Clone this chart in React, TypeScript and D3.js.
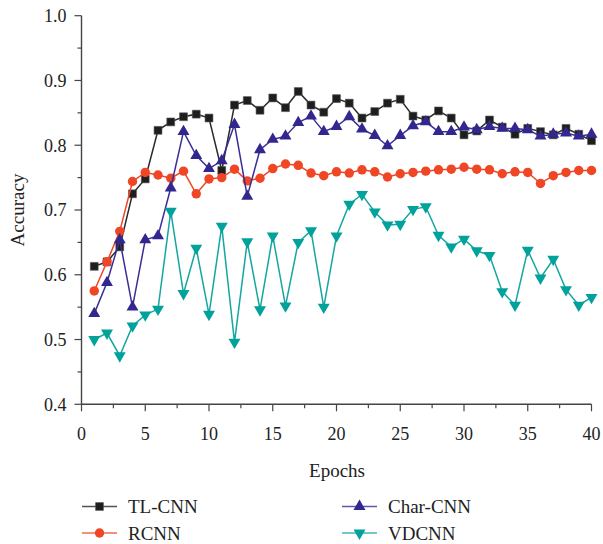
import React, { useEffect, useRef } from 'react';
import * as d3 from 'd3';

// epochs 1..40
const epochs = d3.range(1, 41);

const tlCnn = [
  0.613, 0.620, 0.643, 0.725, 0.748, 0.823, 0.836, 0.844, 0.848, 0.842,
  0.761, 0.862, 0.869, 0.854, 0.873, 0.858, 0.883, 0.862, 0.851, 0.872,
  0.865, 0.842, 0.852, 0.865, 0.871, 0.845, 0.839, 0.853, 0.842, 0.816,
  0.822, 0.839, 0.828, 0.817, 0.826, 0.821, 0.816, 0.826, 0.817, 0.807,
];

const rcnn = [
  0.575, 0.620, 0.667, 0.744, 0.758, 0.754, 0.749, 0.760, 0.725, 0.748,
  0.750, 0.763, 0.745, 0.749, 0.764, 0.771, 0.769, 0.757, 0.753, 0.759,
  0.757, 0.762, 0.759, 0.751, 0.756, 0.758, 0.760, 0.762, 0.763, 0.766,
  0.763, 0.762, 0.756, 0.759, 0.758, 0.741, 0.753, 0.758, 0.761, 0.761,
];

const charCnn = [
  0.540, 0.588, 0.654, 0.550, 0.654, 0.660, 0.734, 0.821, 0.784, 0.764,
  0.776, 0.832, 0.721, 0.793, 0.809, 0.814, 0.835, 0.845, 0.821, 0.829,
  0.844, 0.825, 0.815, 0.799, 0.815, 0.830, 0.836, 0.821, 0.821, 0.828,
  0.824, 0.829, 0.826, 0.826, 0.824, 0.814, 0.817, 0.819, 0.814, 0.817,
];

const vdcnn = [
  0.500, 0.510, 0.475, 0.521, 0.538, 0.547, 0.698, 0.571, 0.641, 0.539,
  0.675, 0.496, 0.651, 0.546, 0.660, 0.552, 0.650, 0.668, 0.550, 0.660,
  0.709, 0.724, 0.697, 0.677, 0.678, 0.701, 0.705, 0.661, 0.643, 0.655,
  0.637, 0.630, 0.574, 0.553, 0.638, 0.595, 0.624, 0.577, 0.553, 0.565,
];

const xTicks = [0, 5, 10, 15, 20, 25, 30, 35, 40];
const yTicks = [0.4, 0.5, 0.6, 0.7, 0.8, 0.9, 1.0];

const series = [
  { name: 'TL-CNN', values: tlCnn, color: '#1e1e1e', line: '#2a2a2a', symbol: d3.symbolSquare, size: 62, rot: 0, stroke: '#555' },
  { name: 'RCNN', values: rcnn, color: '#ef4626', line: '#ef4626', symbol: d3.symbolCircle, size: 70, rot: 0, stroke: 'none' },
  { name: 'Char-CNN', values: charCnn, color: '#31278f', line: '#3a2f95', symbol: d3.symbolTriangle, size: 62, rot: 0, stroke: 'none' },
  { name: 'VDCNN', values: vdcnn, color: '#00a29b', line: '#14a6a0', symbol: d3.symbolTriangle, size: 62, rot: 180, stroke: 'none' },
];

const App = () => {
  const ref = useRef<SVGSVGElement | null>(null);

  useEffect(() => {
    if (!ref.current) return;
    const svg = d3.select(ref.current);
    svg.selectAll('*').remove();

    const axisColor = '#444';

    const x = d3.scaleLinear().domain([0, 40]).range([81.5, 591.5]);
    const y = d3.scaleLinear().domain([0.4, 1.0]).range([404.3, 15.7]);

    // y axis
    const yAxis = svg.append('g').attr('transform', `translate(${x(0)},0)`);
    yAxis.append('line')
      .attr('x1', 0).attr('x2', 0)
      .attr('y1', y(1.0)).attr('y2', y(0.4))
      .attr('stroke', axisColor).attr('stroke-width', 1.4);
    yAxis.selectAll('.maj').data(yTicks).enter().append('line')
      .attr('x1', -7).attr('x2', 0)
      .attr('y1', d => y(d)).attr('y2', d => y(d))
      .attr('stroke', axisColor).attr('stroke-width', 1.2);
    yAxis.selectAll('.min').data(yTicks.slice(0, -1).map(d => d + 0.05)).enter().append('line')
      .attr('x1', -4).attr('x2', 0)
      .attr('y1', d => y(d)).attr('y2', d => y(d))
      .attr('stroke', axisColor).attr('stroke-width', 1.2);
    yAxis.selectAll('text').data(yTicks).enter().append('text')
      .attr('x', -15).attr('y', d => y(d))
      .attr('dy', '0.35em')
      .attr('text-anchor', 'end')
      .attr('font-size', 18).attr('fill', '#222')
      .text(d => d.toFixed(1));

    // x axis
    const xAxis = svg.append('g').attr('transform', `translate(0,${y(0.4)})`);
    xAxis.append('line')
      .attr('x1', x(0)).attr('x2', x(40))
      .attr('y1', 0).attr('y2', 0)
      .attr('stroke', axisColor).attr('stroke-width', 1.4);
    xAxis.selectAll('.maj').data(xTicks).enter().append('line')
      .attr('x1', d => x(d)).attr('x2', d => x(d))
      .attr('y1', 0).attr('y2', 7)
      .attr('stroke', axisColor).attr('stroke-width', 1.2);
    xAxis.selectAll('.min').data(xTicks.slice(0, -1).map(d => d + 2.5)).enter().append('line')
      .attr('x1', d => x(d)).attr('x2', d => x(d))
      .attr('y1', 0).attr('y2', 4)
      .attr('stroke', axisColor).attr('stroke-width', 1.2);
    xAxis.selectAll('text').data(xTicks).enter().append('text')
      .attr('x', d => x(d)).attr('y', 36)
      .attr('text-anchor', 'middle')
      .attr('font-size', 18).attr('fill', '#222')
      .text(d => d);

    // axis titles
    svg.append('text')
      .attr('x', 337).attr('y', 477)
      .attr('text-anchor', 'middle')
      .attr('font-size', 19).attr('fill', '#222')
      .text('Epochs');
    svg.append('text')
      .attr('transform', `translate(24,210) rotate(-90)`)
      .attr('text-anchor', 'middle')
      .attr('font-size', 19).attr('fill', '#222')
      .text('Accuracy');

    // series
    const line = d3.line<number>()
      .x((_, i) => x(epochs[i]))
      .y(d => y(d));

    series.forEach(s => {
      const g = svg.append('g');
      g.append('path')
        .attr('d', line(s.values))
        .attr('fill', 'none')
        .attr('stroke', s.line)
        .attr('stroke-width', 1.5);
      const sym = d3.symbol().type(s.symbol).size(s.size);
      g.selectAll('path.m').data(s.values).enter().append('path')
        .attr('class', 'm')
        .attr('d', sym)
        .attr('transform', (d, i) => `translate(${x(epochs[i])},${y(d)}) rotate(${s.rot})`)
        .attr('fill', s.color)
        .attr('stroke', s.stroke)
        .attr('stroke-width', 0.6);
    });

    // legend
    const legendPos = [
      { x: 82, y: 506.5 },
      { x: 82, y: 533 },
      { x: 342, y: 506.5 },
      { x: 342, y: 533 },
    ];
    series.forEach((s, i) => {
      const p = legendPos[i];
      const g = svg.append('g').attr('transform', `translate(${p.x},${p.y})`);
      g.append('line')
        .attr('x1', 0).attr('x2', 35).attr('y1', 0).attr('y2', 0)
        .attr('stroke', s.line).attr('stroke-width', 1.5).attr('opacity', 0.8);
      g.append('path')
        .attr('d', d3.symbol().type(s.symbol).size(s.size)())
        .attr('transform', `translate(17.5,0) rotate(${s.rot})`)
        .attr('fill', s.color)
        .attr('stroke', s.stroke)
        .attr('stroke-width', 0.6);
      g.append('text')
        .attr('x', 46).attr('y', 0).attr('dy', '0.35em')
        .attr('font-size', 19).attr('fill', '#222')
        .text(s.name);
    });
  }, []);

  return (
    <svg
      ref={ref}
      width={603}
      height={544}
      style={{
        position: 'absolute',
        top: 0,
        left: 0,
        background: '#fff',
        fontFamily: "'Liberation Serif', 'DejaVu Serif', serif",
      }}
    />
  );
};

export default App;
